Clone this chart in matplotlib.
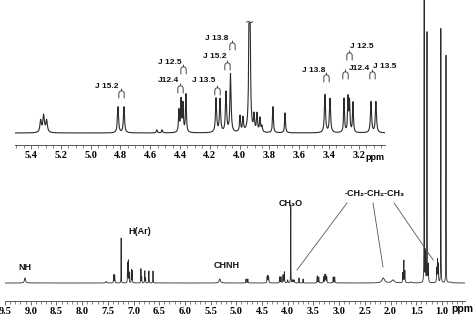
import numpy as np
import matplotlib.pyplot as plt
from matplotlib.path import Path
from matplotlib.ticker import MultipleLocator, FormatStrFormatter

# full spectrum: peak positions (ppm), heights, half widths (ppm)
main_ppm = [9.11, 7.53, 7.385, 7.365, 7.24, 7.115, 7.10, 7.085, 7.04, 7.025,
            6.855, 6.84, 6.78, 6.765, 6.70, 6.62, 5.32, 4.81, 4.775,
            4.40, 4.385, 4.37, 4.155, 4.13, 4.09, 4.065, 4.00, 3.94, 3.90, 3.875,
            3.78, 3.70, 3.425, 3.395, 3.30, 3.275, 3.26, 3.24, 3.115, 3.085,
            2.14, 1.95, 1.76, 1.74, 1.72, 1.60, 1.345, 1.32, 1.29, 1.265,
            1.10, 1.085, 1.07, 1.02, 0.92, 0.84]
main_int = [5, 1.5, 8, 8, 45, 20, 22, 10, 13, 12,
            14, 6, 12, 5, 12, 12, 4, 4, 4,
            6, 7, 6, 6, 6, 8, 11, 3, 78, 3, 3,
            5, 4, 7, 6, 6, 8, 8, 6, 6, 6,
            5, 3, 10, 22, 12, 1, 330, 30, 250, 18,
            14, 22, 18, 255, 228, 1]
main_hw = [0.012, 0.01, 0.004, 0.004, 0.002, 0.003, 0.003, 0.003, 0.003, 0.003,
           0.003, 0.003, 0.003, 0.003, 0.003, 0.003, 0.015, 0.004, 0.004,
           0.004, 0.004, 0.004, 0.004, 0.004, 0.004, 0.004, 0.006, 0.002, 0.006, 0.006,
           0.003, 0.003, 0.004, 0.004, 0.004, 0.004, 0.004, 0.004, 0.004, 0.004,
           0.03, 0.03, 0.004, 0.003, 0.004, 0.02, 0.002, 0.004, 0.002, 0.004,
           0.004, 0.004, 0.004, 0.002, 0.002, 0.02]

# expanded region 5.5 - 3.0 ppm
ins_ppm = [5.335, 5.315, 5.295, 4.816, 4.776, 4.555, 4.52,
           4.407, 4.393, 4.380, 4.360, 4.158, 4.131, 4.091, 4.061,
           3.997, 3.977, 3.933, 3.903, 3.883, 3.863, 3.85,
           3.776, 3.695, 3.427, 3.393, 3.299, 3.272, 3.262, 3.239,
           3.118, 3.085]
ins_int = [12, 17, 12, 26, 26, 3, 3,
           22, 32, 28, 38, 34, 33, 40, 58,
           16, 14, 400, 16, 18, 14, 6,
           26, 20, 38, 34, 34, 34, 30, 30,
           31, 31]
ins_hw = [0.006, 0.006, 0.006, 0.0045, 0.0045, 0.004, 0.004,
          0.0035, 0.0035, 0.0035, 0.0035, 0.0045, 0.0045, 0.0045, 0.0045,
          0.004, 0.004, 0.003, 0.004, 0.004, 0.004, 0.004,
          0.0035, 0.0035, 0.0045, 0.0045, 0.0035, 0.0035, 0.0035, 0.0035,
          0.0045, 0.0045]
ins_clip = 110

# coupling labels in the expansion: text, peak pair centre, bracket height, text pos
j_text = ['J 15.2', 'J 12.5', 'J12.4', 'J 13.5', 'J 15.2', 'J 13.8',
          'J 13.8', 'J 12.5', 'J12.4', 'J 13.5']
j_ppm = [4.796, 4.38, 4.40, 4.152, 4.085, 4.05, 3.42, 3.266, 3.293, 3.11]
j_y = [40, 64, 45, 43, 68, 88, 56, 78, 59, 59]
j_tx = [4.89, 4.467, 4.48, 4.24, 4.165, 4.152, 3.50, 3.179, 3.192, 3.024]
j_ty = [47, 71, 52, 52, 76, 94, 62, 87, 65, 66]


def spectrum(x, pos, amp, hw):
    y = np.zeros_like(x)
    for p, a, w in zip(pos, amp, hw):
        y += a * w**2 / ((x - p)**2 + w**2)
    return y


W, H = 474, 320
fig = plt.figure(figsize=(4.74, 3.2), dpi=100)
col = '#2b2b2b'
tickfont = dict(family='Liberation Serif', weight='bold', size=7.5)
lab = dict(family=['Liberation Sans', 'DejaVu Sans'], weight='bold', color='#111111')

# ---- main spectrum
ax = fig.add_axes([5 / W, 19 / H, 460 / W, 301 / H])
x = np.linspace(0.55, 9.5, 40000)
ax.plot(x, spectrum(x, main_ppm, main_int, main_hw), color=col, lw=0.6)
ax.set_xlim(9.5, 9.5 - 460 / 51.4)
ax.set_ylim(-18, 283)
ax.xaxis.set_major_locator(MultipleLocator(0.5))
ax.xaxis.set_minor_locator(MultipleLocator(0.1))
ax.xaxis.set_major_formatter(FormatStrFormatter('%.1f'))
for s in ['top', 'left', 'right']:
    ax.spines[s].set_visible(False)
ax.spines['bottom'].set_color('#555555')
ax.spines['bottom'].set_linewidth(0.7)
ax.set_yticks([])
ax.tick_params(axis='x', which='major', length=3, width=0.6, color='#555555', pad=1.5)
ax.tick_params(axis='x', which='minor', length=2, width=0.5, color='#555555')
for t in ax.get_xticklabels():
    t.set_fontproperties(tickfont)
ax.patch.set_visible(False)
fig.text(473 / W, 1 - 309 / H, 'ppm', fontsize=7.5, va='center', ha='right',
         family='Liberation Sans', weight='bold')

ax.text(9.11, 16, 'NH', fontsize=6.5, ha='center', va='center', **lab)
ax.text(6.87, 52, 'H(Ar)', fontsize=6.5, ha='center', va='center', **lab)
ax.text(5.18, 18, 'CHNH', fontsize=6.5, ha='center', va='center', **lab)
ax.text(3.94, 80, 'CH\u2083O', fontsize=6.5, ha='center', va='center', **lab)
ax.text(2.31, 90, '-CH\u2082-CH\u2082-CH\u2083', fontsize=6.5, ha='center',
        va='center', **lab)
# leader lines from the propyl label to its signals
for (x0, x1, y1) in [(2.846, 3.82, 13), (2.34, 2.146, 16), (1.93, 1.17, 23)]:
    ax.plot([x0, x1], [80, y1], color='#555555', lw=0.6)

# ---- expansion
ia = fig.add_axes([15 / W, 1 - 145 / H, 370 / W, 145 / H])
xi = np.linspace(3.02, 5.51, 20000)
yi = np.minimum(spectrum(xi, ins_ppm, ins_int, ins_hw), ins_clip)
ia.plot(xi, yi, color=col, lw=0.8)
ia.text(3.933, ins_clip, '~', fontsize=8, ha='center', va='center', color=col)
ia.set_xlim(5.4 + 16 / 149, 5.4 - 354 / 149)
ia.set_ylim(-12, 133)
ia.xaxis.set_major_locator(MultipleLocator(0.2))
ia.xaxis.set_minor_locator(MultipleLocator(0.05))
ia.xaxis.set_major_formatter(FormatStrFormatter('%.1f'))
for s in ['top', 'left', 'right']:
    ia.spines[s].set_visible(False)
ia.spines['bottom'].set_color('#555555')
ia.spines['bottom'].set_linewidth(0.7)
ia.set_yticks([])
ia.tick_params(axis='x', which='major', length=3, width=0.6, color='#555555', pad=1.5)
ia.tick_params(axis='x', which='minor', length=2, width=0.5, color='#555555')
for t in ia.get_xticklabels():
    t.set_fontproperties(tickfont)
ia.patch.set_visible(False)
fig.text(375 / W, 1 - 157 / H, 'ppm', fontsize=6.5, va='center', ha='center',
         family='Liberation Sans', weight='bold')

# bracket marker: small arch with a stem
th = np.linspace(np.pi, 0, 16)
verts = [(0, 1.0), (0, 0.55)] + [(-0.55, -1.0), (-0.55, 0.0)] + \
        [(0.55 * np.cos(a), 0.55 * np.sin(a)) for a in th] + [(0.55, -1.0)]
codes = [Path.MOVETO, Path.LINETO, Path.MOVETO] + [Path.LINETO] * (len(verts) - 3)
arch = Path(verts, codes)
ia.plot(j_ppm, j_y, ls='none', marker=arch, markersize=7, mfc='none',
        mec='#444444', mew=0.7)
for s, tx, ty in zip(j_text, j_tx, j_ty):
    ia.text(tx, ty, s, fontsize=6, ha='center', va='center', **lab)

fig.savefig('out.png', dpi=100)
